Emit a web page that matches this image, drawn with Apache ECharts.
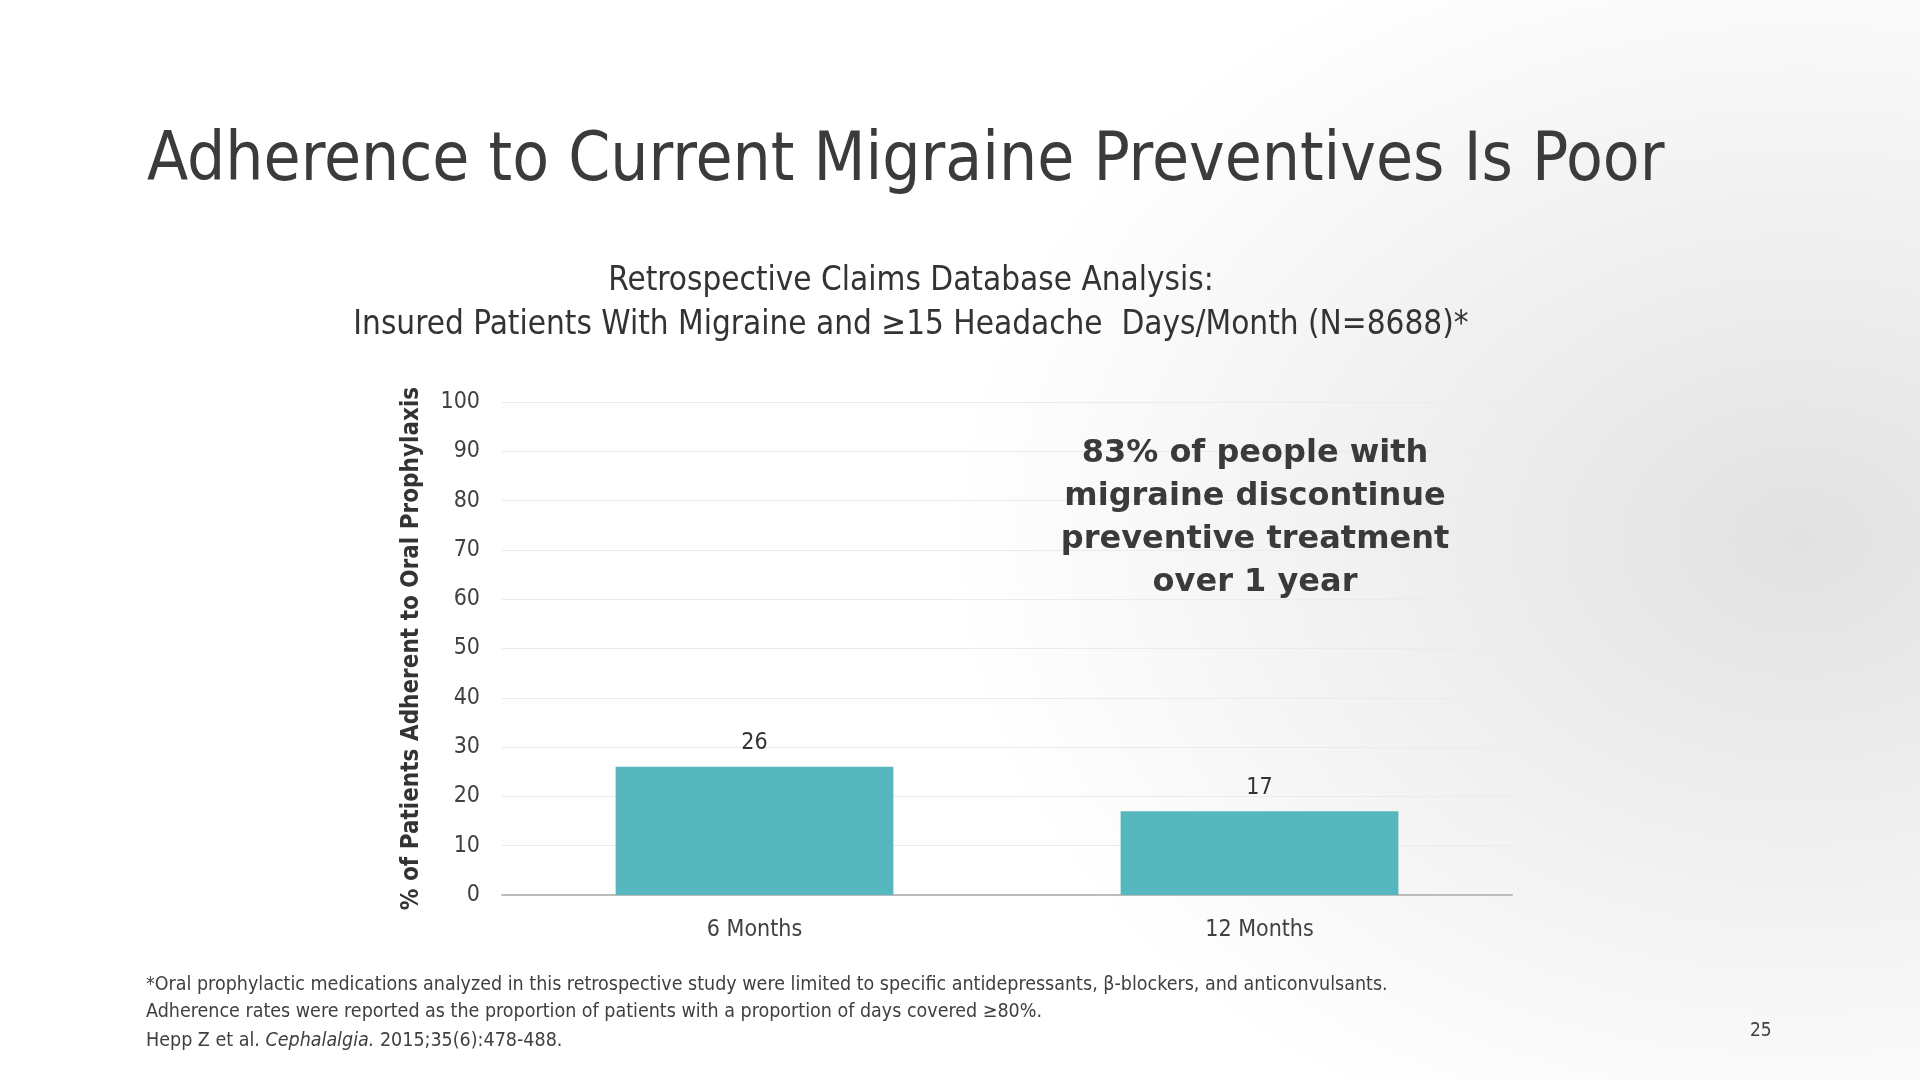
<!DOCTYPE html>
<html>
<head>
<meta charset="utf-8">
<script src="https://cdn.jsdelivr.net/npm/echarts@6/dist/echarts.min.js"></script>
<style>
html,body{margin:0;padding:0;width:1920px;height:1080px;overflow:hidden;
background: radial-gradient(ellipse 850px 650px at 1800px 540px, #e2e2e2 0%, #efefef 45%, #ffffff 100%);}
#chart{width:1920px;height:1080px;}
</style>
</head>
<body>
<div id="chart"></div>
<script>
const categories = ['6 Months', '12 Months'];
const adherence = [26, 17];
const yTicks = [0, 10, 20, 30, 40, 50, 60, 70, 80, 90, 100];

const chart = echarts.init(document.getElementById('chart'), null, {renderer: 'canvas'});
const condensed = '"DejaVu Sans Condensed", "Roboto", sans-serif';
const body = '"DejaVu Sans Condensed", "DejaVu Sans", sans-serif';

chart.setOption({
  backgroundColor: 'transparent',
  animation: false,
  title: [
    {
      text: 'Adherence to Current Migraine Preventives Is Poor',
      left: 142, top: 124,
      textStyle: {fontFamily: condensed, fontSize: 67, fontWeight: 'normal', color: '#3b3b3b'}
    },
    {
      text: 'Retrospective Claims Database Analysis:\nInsured Patients With Migraine and \u226515 Headache  Days/Month (N=8688)*',
      left: 906, top: 254, textAlign: 'center',
      textStyle: {fontFamily: condensed, fontSize: 33, fontWeight: 'normal', color: '#333333', lineHeight: 44, align: 'center'}
    }
  ],
  grid: {left: 502, right: 408, top: 402, bottom: 185},
  xAxis: {
    type: 'category',
    data: categories,
    axisLine: {lineStyle: {color: '#bcbcbc', width: 2}},
    axisTick: {show: false},
    axisLabel: {fontFamily: body, fontSize: 23, color: '#404040', margin: 24}
  },
  yAxis: {
    type: 'value',
    min: yTicks[0], max: yTicks[yTicks.length - 1], interval: 10,
    name: '% of Patients Adherent to Oral Prophylaxis',
    nameLocation: 'middle', nameGap: 78,
    nameTextStyle: {fontFamily: body, fontSize: 24, fontWeight: 'bold', color: '#333333'},
    axisLine: {show: false},
    axisTick: {show: false},
    axisLabel: {fontFamily: body, fontSize: 23, color: '#404040', margin: 22},
    splitLine: {lineStyle: {color: '#ebebeb', width: 1}}
  },
  series: [{
    type: 'bar',
    data: adherence,
    barCategoryGap: '45%',
    itemStyle: {color: '#57b7be'},
    label: {show: true, position: 'top', distance: 12, fontFamily: body, fontSize: 23, color: '#333333'}
  }],
  graphic: [
    {
      type: 'text', x: 1255, y: 432, z: 100,
      style: {
        text: '83% of people with\nmigraine discontinue\npreventive treatment\nover 1 year',
        fontFamily: '"DejaVu Sans", sans-serif', fontSize: 32, fontWeight: 'bold',
        fill: '#3a3a3a', lineHeight: 43, align: 'center', verticalAlign: 'top'
      }
    },
    {
      type: 'text', left: 146, top: 971,
      style: {
        text: '*Oral prophylactic medications analyzed in this retrospective study were limited to specific antidepressants, \u03b2-blockers, and anticonvulsants.\nAdherence rates were reported as the proportion of patients with a proportion of days covered \u226580%.',
        fontFamily: body, fontSize: 19.5, fill: '#404040', lineHeight: 27
      }
    },
    {
      type: 'text', left: 146, top: 1031,
      style: {
        text: '{n|Hepp Z et al. }{i|Cephalalgia.}{n| 2015;35(6):478-488.}',
        rich: {
          n: {fontFamily: body, fontSize: 19.5, fill: '#404040'},
          i: {fontFamily: body, fontSize: 19.5, fontStyle: 'italic', fill: '#404040'}
        }
      }
    },
    {
      type: 'text', left: 1750, top: 1022,
      style: {text: '25', fontFamily: body, fontSize: 19, fill: '#404040'}
    }
  ]
});
</script>
</body>
</html>
